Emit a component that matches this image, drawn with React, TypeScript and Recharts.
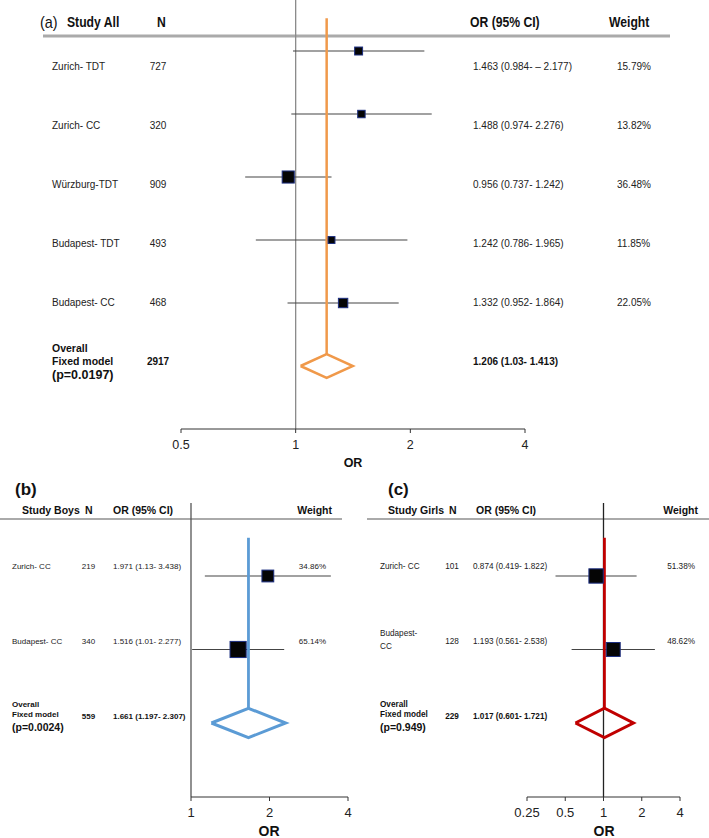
import React from 'react';
import { ScatterChart, Scatter, XAxis, YAxis, ReferenceLine } from 'recharts';

const FONT = '"Liberation Sans", Arial, Helvetica, sans-serif';

// (a) all children
const studiesAll = ['Zurich- TDT', 'Zurich- CC', 'Würzburg-TDT', 'Budapest- TDT', 'Budapest- CC'];
const nAll = [727, 320, 909, 493, 468];
const orAll = [1.463, 1.488, 0.956, 1.242, 1.332];
const loAll = [0.984, 0.974, 0.737, 0.786, 0.952];
const hiAll = [2.177, 2.276, 1.242, 1.965, 1.864];
const ciTextAll = [
  '1.463 (0.984- \u2013 2.177)',
  '1.488 (0.974- 2.276)',
  '0.956 (0.737- 1.242)',
  '1.242 (0.786- 1.965)',
  '1.332 (0.952- 1.864)',
];
const weightAll = [15.79, 13.82, 36.48, 11.85, 22.05];
const pooledAll = { n: 2917, or: 1.206, lo: 1.03, hi: 1.413, ci: '1.206 (1.03- 1.413)', p: '(p=0.0197)' };

// (b) boys
const studiesBoys = ['Zurich- CC', 'Budapest- CC'];
const nBoys = [219, 340];
const orBoys = [1.971, 1.516];
const loBoys = [1.13, 1.01];
const hiBoys = [3.438, 2.277];
const ciTextBoys = ['1.971 (1.13- 3.438)', '1.516 (1.01- 2.277)'];
const weightBoys = [34.86, 65.14];
const pooledBoys = { n: 559, or: 1.661, lo: 1.197, hi: 2.307, ci: '1.661 (1.197- 2.307)', p: '(p=0.0024)' };

// (c) girls
const studiesGirls = ['Zurich- CC', 'Budapest-\nCC'];
const nGirls = [101, 128];
const orGirls = [0.874, 1.193];
const loGirls = [0.419, 0.561];
const hiGirls = [1.822, 2.538];
const ciTextGirls = ['0.874 (0.419- 1.822)', '1.193 (0.561- 2.538)'];
const weightGirls = [51.38, 48.62];
const pooledGirls = { n: 229, or: 1.017, lo: 0.601, hi: 1.721, ci: '1.017 (0.601- 1.721)', p: '(p=0.949)' };

const ticksAll = [0.5, 1, 2, 4];
const ticksBoys = [1, 2, 4];
const ticksGirls = [0.25, 0.5, 1, 2, 4];

function buildRows(labels: string[], n: number[], or: number[], lo: number[], hi: number[], ci: string[], w: number[]) {
  return labels.map((label, i) => ({ row: i, label, n: n[i], or: or[i], lo: lo[i], hi: hi[i], ci: ci[i], weight: w[i] }));
}

const panelA = {
  left: 0, top: 0, width: 709, height: 470,
  margin: { top: 0, right: 184, bottom: 11, left: 181 },
  domain: [0.5, 4], ticks: ticksAll,
  markerDomain: [-0.81, 6.0], textDomain: [-1.115, 6.132],
  est: '#f0994a', ref: '#8a8a8a', estW: 2.5, diamondW: 2.5, diamondH: 0.19,
  rowFont: 10, pooledFont: 10.5, pooledNumFont: 10, pFont: 12.5, tickFont: 12.5,
  cols: { label: 52, n: 158, ci: 473, weight: 617 }, weightAnchor: 'start',
  pooledOffsets: [-14, -1, 13],
};
const panelB = {
  left: 0, top: 480, width: 354, height: 358,
  margin: { top: 23, right: 6, bottom: 11, left: 191 },
  domain: [1, 4], ticks: ticksBoys,
  markerDomain: [-0.993, 3.007], textDomain: [-0.853, 3.067],
  est: '#5b9bd5', ref: '#555555', estW: 2.8, diamondW: 3, diamondH: 0.2,
  rowFont: 8, pooledFont: 8, pooledNumFont: 8, pFont: 10.5, tickFont: 13,
  cols: { label: 12, n: 88.5, ci: 113, weight: 326 }, weightAnchor: 'end',
  pooledOffsets: [-12, -2, 10],
};
const panelC = {
  left: 354, top: 480, width: 355, height: 358,
  margin: { top: 23, right: 29, bottom: 11, left: 173 },
  domain: [0.25, 4], ticks: ticksGirls,
  markerDomain: [-0.993, 3.007], textDomain: [-0.853, 3.067],
  est: '#c00000', ref: '#222222', estW: 2.8, diamondW: 3, diamondH: 0.2,
  rowFont: 8.2, pooledFont: 8.2, pooledNumFont: 8.2, pFont: 10.5, tickFont: 13,
  cols: { label: 26, n: 98, ci: 119, weight: 341 }, weightAnchor: 'end',
  pooledOffsets: [-12, -2, 10],
};

function Panel({ p, rows, pooled }: any) {
  const pr = rows.length;
  const pooledRow = { row: pr, ...pooled };
  const diamond = [
    { or: pooled.lo, row: pr },
    { or: pooled.or, row: pr - p.diamondH },
    { or: pooled.hi, row: pr },
    { or: pooled.or, row: pr + p.diamondH },
    { or: pooled.lo, row: pr },
  ];

  const Box = (props: any) => {
    const { cx, cy, payload } = props;
    const s = 2 * Math.sqrt(payload.weight);
    return <rect x={cx - s / 2} y={cy - s / 2} width={s} height={s} fill="#050505" stroke="#1c2e80" strokeWidth={1} />;
  };

  const RowText = (props: any) => {
    const { cy, payload } = props;
    const lines: string[] = payload.label.split('\n');
    return (
      <g fontSize={p.rowFont} fill="#222">
        {lines.map((l, k) => (
          <text key={k} x={p.cols.label} y={cy + (k - (lines.length - 1) / 2) * 13 - (lines.length > 1 ? 2 : 0)} dominantBaseline="central">{l}</text>
        ))}
        <text x={p.cols.n} y={cy} textAnchor="middle" dominantBaseline="central">{payload.n}</text>
        <text x={p.cols.ci} y={cy} dominantBaseline="central">{payload.ci}</text>
        <text x={p.cols.weight} y={cy} textAnchor={p.weightAnchor} dominantBaseline="central">{payload.weight.toFixed(2)}%</text>
      </g>
    );
  };

  const PooledText = (props: any) => {
    const { cy, payload } = props;
    const [o1, o2, o3] = p.pooledOffsets;
    return (
      <g fill="#111" fontWeight="bold">
        <text x={p.cols.label} y={cy + o1} fontSize={p.pooledFont} dominantBaseline="central">Overall</text>
        <text x={p.cols.label} y={cy + o2} fontSize={p.pooledFont} dominantBaseline="central">Fixed model</text>
        <text x={p.cols.label} y={cy + o3} fontSize={p.pFont} dominantBaseline="central">{payload.p}</text>
        <text x={p.cols.n} y={cy} fontSize={p.pooledNumFont} textAnchor="middle" dominantBaseline="central">{payload.n}</text>
        <text x={p.cols.ci} y={cy} fontSize={p.pooledNumFont} dominantBaseline="central">{payload.ci}</text>
      </g>
    );
  };

  return (
    <div style={{ position: 'absolute', left: p.left, top: p.top }}>
      <ScatterChart width={p.width} height={p.height} margin={p.margin}>
        <XAxis
          type="number"
          dataKey="or"
          scale="log"
          domain={p.domain}
          ticks={p.ticks}
          interval={0}
          height={30}
          stroke="#333"
          tickSize={4}
          tickMargin={7}
          tick={{ fill: '#222', fontSize: p.tickFont }}
        />
        <YAxis yAxisId="m" type="number" dataKey="row" domain={p.markerDomain} reversed hide />
        <YAxis yAxisId="t" type="number" dataKey="row" domain={p.textDomain} reversed hide />
        <ReferenceLine yAxisId="m" x={1} stroke={p.ref} strokeWidth={1.3} />
        {rows.map((r: any) => (
          <ReferenceLine
            key={r.label}
            yAxisId="m"
            segment={[{ x: r.lo, y: r.row }, { x: r.hi, y: r.row }]}
            stroke="#444"
            strokeWidth={1.1}
          />
        ))}
        <Scatter yAxisId="m" data={rows} shape={Box} isAnimationActive={false} />
        <ReferenceLine
          yAxisId="m"
          segment={[{ x: pooled.or, y: -0.52 }, { x: pooled.or, y: pr - p.diamondH }]}
          stroke={p.est}
          strokeWidth={p.estW}
        />
        <Scatter
          yAxisId="m"
          data={diamond}
          line={{ stroke: p.est, strokeWidth: p.diamondW, strokeLinejoin: 'miter' }}
          lineType="joint"
          shape={() => <g />}
          isAnimationActive={false}
        />
        <Scatter yAxisId="t" data={rows} shape={RowText} isAnimationActive={false} />
        <Scatter yAxisId="t" data={[pooledRow]} shape={PooledText} isAnimationActive={false} />
      </ScatterChart>
    </div>
  );
}

// condensed bold header text for panel (a)
const Narrow = ({ x, y, children }: any) => (
  <text transform={`translate(${x},${y}) scale(0.84,1)`} fontSize={14.5} fontWeight="bold" fill="#111" dominantBaseline="central">
    {children}
  </text>
);

function Headers() {
  const hb = { fontWeight: 'bold' as const, fill: '#111', dominantBaseline: 'central' as const };
  return (
    <svg width={709} height={838} style={{ position: 'absolute', left: 0, top: 0 }}>
      {/* (a) */}
      <text transform="translate(40,22) scale(0.9,1)" fontSize={16} fill="#111" dominantBaseline="central">(a)</text>
      <Narrow x={67} y={22}>Study All</Narrow>
      <Narrow x={157} y={22}>N</Narrow>
      <Narrow x={470} y={22}>OR (95% CI)</Narrow>
      <Narrow x={609} y={22}>Weight</Narrow>
      <line x1={43} x2={670} y1={36} y2={36} stroke="#aaa" strokeWidth={3} />
      <text x={353} y={463} fontSize={12.5} textAnchor="middle" {...hb}>OR</text>

      {/* (b) */}
      <text x={15} y={489} fontSize={17} {...hb}>(b)</text>
      <g fontSize={10.5} {...hb}>
        <text x={22} y={510}>Study Boys</text>
        <text x={85} y={510}>N</text>
        <text x={113} y={510}>OR (95% CI)</text>
        <text x={332} y={510} textAnchor="end">Weight</text>
      </g>
      <line x1={0} x2={342} y1={519} y2={519} stroke="#aaa" strokeWidth={2} />
      <text x={269} y={831} fontSize={14} textAnchor="middle" {...hb}>OR</text>

      {/* (c) */}
      <text x={388} y={489} fontSize={17} {...hb}>(c)</text>
      <g fontSize={10.5} {...hb}>
        <text x={388} y={510}>Study Girls</text>
        <text x={449} y={510}>N</text>
        <text x={476} y={510}>OR (95% CI)</text>
        <text x={698} y={510} textAnchor="end">Weight</text>
      </g>
      <line x1={367} x2={709} y1={519} y2={519} stroke="#aaa" strokeWidth={2} />
      <text x={604} y={831} fontSize={14} textAnchor="middle" {...hb}>OR</text>
    </svg>
  );
}

export default function App() {
  const rowsAll = buildRows(studiesAll, nAll, orAll, loAll, hiAll, ciTextAll, weightAll);
  const rowsBoys = buildRows(studiesBoys, nBoys, orBoys, loBoys, hiBoys, ciTextBoys, weightBoys);
  const rowsGirls = buildRows(studiesGirls, nGirls, orGirls, loGirls, hiGirls, ciTextGirls, weightGirls);
  return (
    <div style={{ position: 'absolute', left: 0, top: 0, width: 709, height: 838, background: '#fff', fontFamily: FONT }}>
      <Headers />
      <Panel p={panelA} rows={rowsAll} pooled={pooledAll} />
      <Panel p={panelB} rows={rowsBoys} pooled={pooledBoys} />
      <Panel p={panelC} rows={rowsGirls} pooled={pooledGirls} />
    </div>
  );
}
